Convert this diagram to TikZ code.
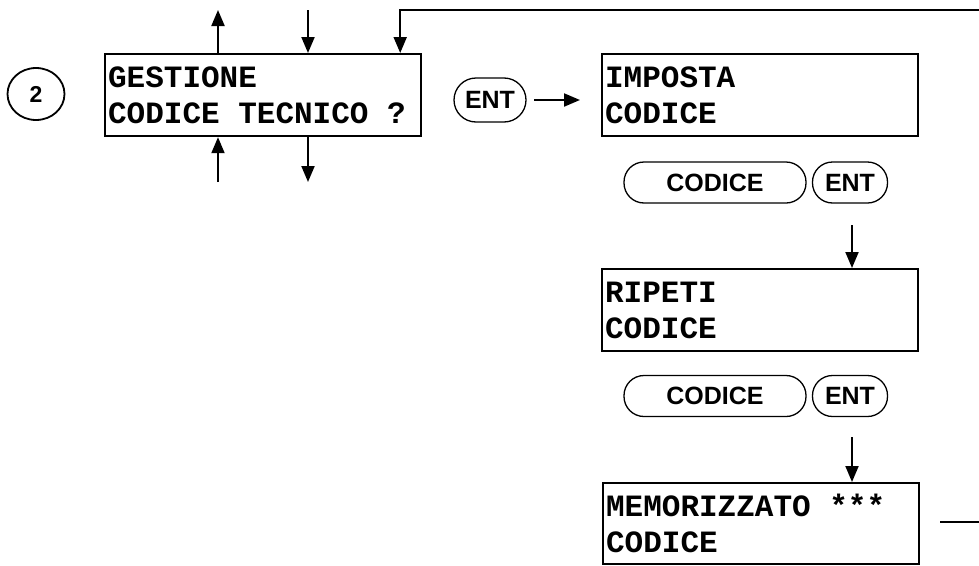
\documentclass[tikz,border=0pt]{standalone}
\usepackage{fontspec}
\setmainfont{Liberation Sans}
\newfontfamily\lcdfont{Liberation Mono}
\newcommand\lsp{\hspace*{0.6em}}
\usetikzlibrary{arrows.meta,shapes.geometric,calc}
\begin{document}
\begin{tikzpicture}[x=1pt,y=-1pt,
  lcd/.style={draw, line width=2.2pt, minimum width=316pt, minimum height=82pt,
    text width=310pt, inner xsep=3pt, inner ysep=0pt, align=left, anchor=north west,
    font=\lcdfont\bfseries\fontsize{31}{36}\selectfont},
  pill/.style={draw, line width=1.3pt, rounded corners=20pt, minimum height=41pt, inner sep=0pt,
    font=\bfseries\fontsize{25}{25}\selectfont},
  arr/.style={line width=2pt, -{Triangle[length=16pt,width=13pt]}},
  plain/.style={line width=2pt}]
\useasboundingbox (0,0) rectangle (979,565);

\node[draw, ellipse, line width=1.8pt, minimum width=57pt, minimum height=52pt, inner sep=0pt,
  font=\bfseries\fontsize{23}{23}\selectfont] (num) at (36,94) {2};

\node[lcd] (b1) at (104,53) {GESTIONE\\CODICE\lsp TECNICO\lsp ?};
\node[lcd] (b2) at (601,53) {IMPOSTA\\CODICE};
\node[lcd] (b3) at (601,268) {RIPETI\\CODICE};
\node[lcd, minimum height=81pt] (b4) at (602,482) {MEMORIZZATO\lsp ***\\CODICE};

\node[pill, minimum width=72pt, minimum height=44pt, rounded corners=22pt] (ent0) at (490,100) {ENT};

\node[pill, minimum width=182pt] (cod1) at (715,182.5) {CODICE};
\node[pill, minimum width=75pt] (ent1) at (850,182.5) {ENT};
\node[pill, minimum width=182pt] (cod2) at (715,396) {CODICE};
\node[pill, minimum width=75pt] (ent2) at (850,396) {ENT};

% arrows around box 1
\coordinate (u1) at (218,10);
\coordinate (d1) at (308,10);
\coordinate (top) at (979,10);
\coordinate (u2) at (218,182);
\coordinate (d2) at (308,182);
\draw[arr] (u1 |- b1.north) -- (u1);
\draw[arr] (d1) -- (d1 |- b1.north);
\draw[arr] (top) -| ($(b1.north east)+(-22,0)$);
\draw[arr] (u2) -- (u2 |- b1.south);
\draw[arr] (d2 |- b1.south) -- (d2);

% ENT -> IMPOSTA
\coordinate (e0a) at (534,100);
\coordinate (e0b) at (580,100);
\draw[arr] (e0a) -- (e0b);

% down arrows
\coordinate (s1) at (852,225);
\coordinate (s2) at (852,437);
\draw[arr] (s1) -- (s1 |- b3.north);
\draw[arr] (s2) -- (s2 |- b4.north);

% exit line
\coordinate (x1) at (940,522);
\coordinate (x2) at (979,522);
\draw[plain] (x1) -- (x2);
\end{tikzpicture}
\end{document}
